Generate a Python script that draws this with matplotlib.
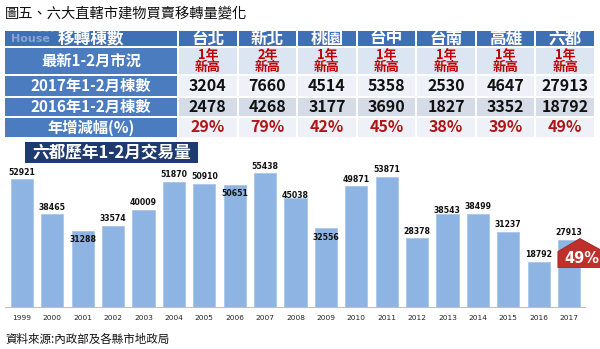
import matplotlib
matplotlib.use('Agg')
import matplotlib.pyplot as plt
from matplotlib.patches import Rectangle, Polygon

plt.rcParams['font.family'] = ['Noto Sans CJK TC', 'DejaVu Sans']

# data
cities = ['台北', '新北', '桃園', '台中', '台南', '高雄', '六都']
status = ['1年\n新高', '2年\n新高', '1年\n新高', '1年\n新高', '1年\n新高', '1年\n新高', '1年\n新高']
units_2017 = [3204, 7660, 4514, 5358, 2530, 4647, 27913]
units_2016 = [2478, 4268, 3177, 3690, 1827, 3352, 18792]
growth = ['29%', '79%', '42%', '45%', '38%', '39%', '49%']
row_names = ['移轉棟數', '最新1-2月市況', '2017年1-2月棟數', '2016年1-2月棟數', '年增減幅(%)']

years = [str(y) for y in range(1999, 2018)]
volumes = [52921, 38465, 31288, 33574, 40009, 51870, 50910, 50651, 55438, 45038,
           32556, 49871, 53871, 28378, 38543, 38499, 31237, 18792, 27913]
badge = '49%'

# label offset in pixels (negative = inside bar)
label_off = [7, 7, -8, 7, 8, 7, 7, -9, 7, 3, -9, 7, 7, 7, 3, 7, 7, 7, 7]

W, H = 600, 349
fig = plt.figure(figsize=(6, 3.49), dpi=100)
bg = fig.add_axes([0, 0, 1, 1])
bg.set_xlim(0, W)
bg.set_ylim(H, 0)
bg.axis('off')

bg.text(5, 13, '圖五、六大直轄市建物買賣移轉量變化', fontsize=10.3, va='center', ha='left', color='#111111')

# table
blue = '#4A7CBF'
head_blue = '#3F6FB4'
row_y = [(31, 46), (48, 74), (76, 96), (98, 116), (118, 137)]
cell_bg = ['#DCE6F3', '#EEF2F8', '#D5DBE7', '#EEF2F8']
col_w = (595 - 178) / 7
for r, (y0, y1) in enumerate(row_y):
    bg.add_patch(Rectangle((5, y0), 172, y1 - y0, color=head_blue if r == 0 else blue, lw=0))
    bg.text(91, (y0 + y1) / 2, row_names[r], color='white', fontsize=12 if r == 0 else 11,
            fontweight='bold', ha='center', va='center')
    for c in range(7):
        x0 = 178 + c * col_w + 1
        fc = head_blue if r == 0 else cell_bg[r - 1]
        bg.add_patch(Rectangle((x0, y0), col_w - 2, y1 - y0, color=fc, lw=0))
        xc = x0 + (col_w - 2) / 2
        yc = (y0 + y1) / 2
        if r == 0:
            bg.text(xc, yc, cities[c], color='white', fontsize=12, fontweight='bold', ha='center', va='center')
        elif r == 1:
            bg.text(xc, yc, status[c], color='#C00000', fontsize=9.3, fontweight='bold', ha='center',
                    va='center', linespacing=0.88)
        elif r == 2:
            bg.text(xc, yc, str(units_2017[c]), color='#111111', fontsize=11.5, fontweight='bold', ha='center', va='center')
        elif r == 3:
            bg.text(xc, yc, str(units_2016[c]), color='#111111', fontsize=11.5, fontweight='bold', ha='center', va='center')
        else:
            bg.text(xc, yc, growth[c], color='#B01515', fontsize=11.5, fontweight='bold', ha='center', va='center')

# watermark
bg.text(50, 27, '好房網', color='white', alpha=0.3, fontsize=9, fontweight='bold', ha='center', va='center')
bg.text(30, 39, 'House', color='#C5D3E8', alpha=0.55, fontsize=8, fontweight='bold', ha='center', va='center',
        family='DejaVu Sans')

# chart subtitle box
bg.add_patch(Rectangle((25, 142), 173, 21, color='#1F3A6E', lw=0))
bg.text(111.5, 152.5, '六都歷年1-2月交易量', color='white', fontsize=12, fontweight='bold', ha='center', va='center')

bg.text(5, 339, '資料來源:內政部及各縣市地政局', fontsize=8.3, ha='left', va='center', color='#111111')

# bar chart
ax = fig.add_axes([5 / W, (H - 307) / H, 580 / W, 145 / H])
ax.patch.set_alpha(0)
x = list(range(len(years)))
ax.bar(x, volumes, width=0.73, color='#8DB4E2', edgecolor='#A9C6EA', linewidth=0.6)
ax.set_xlim(-0.559, 18.526)
ax.set_ylim(0, 60000)
ax.set_xticks(x)
ax.set_xticklabels(years, fontsize=5.3, family='DejaVu Sans', color='#222222')
ax.tick_params(axis='x', length=0, pad=6)
ax.set_yticks([])
for s in ['top', 'left', 'right']:
    ax.spines[s].set_visible(False)
ax.spines['bottom'].set_color('#BFBFBF')
ax.spines['bottom'].set_linewidth(0.8)

for i, v in enumerate(volumes):
    ax.annotate(str(v), (i, v), xytext=(0, label_off[i] * 0.72), textcoords='offset points',
                ha='center', va='center', fontsize=5.6, fontweight='bold', family='DejaVu Sans',
                color='#111111')

# red badge on the last bar
to_px = ax.transData + bg.transData.inverted()
bx0, by0 = to_px.transform((len(years) - 1 - 0.365, volumes[-1]))
shape = [(bx0, by0 + 28), (bx0, by0 + 12), (bx0 + 22, by0 - 1), (bx0 + 44, by0 + 11), (bx0 + 44, by0 + 28)]
ax.add_patch(Polygon(shape, closed=True, facecolor='#C0302B', edgecolor='#A52222', lw=0.6,
                     transform=bg.transData, clip_on=False, zorder=5))
ax.text(bx0 + 24, by0 + 19, badge, color='white', fontsize=10.5, fontweight='bold', ha='center', va='center',
        zorder=6, family='DejaVu Sans', transform=bg.transData, clip_on=False)

fig.savefig('out.png', dpi=100)
